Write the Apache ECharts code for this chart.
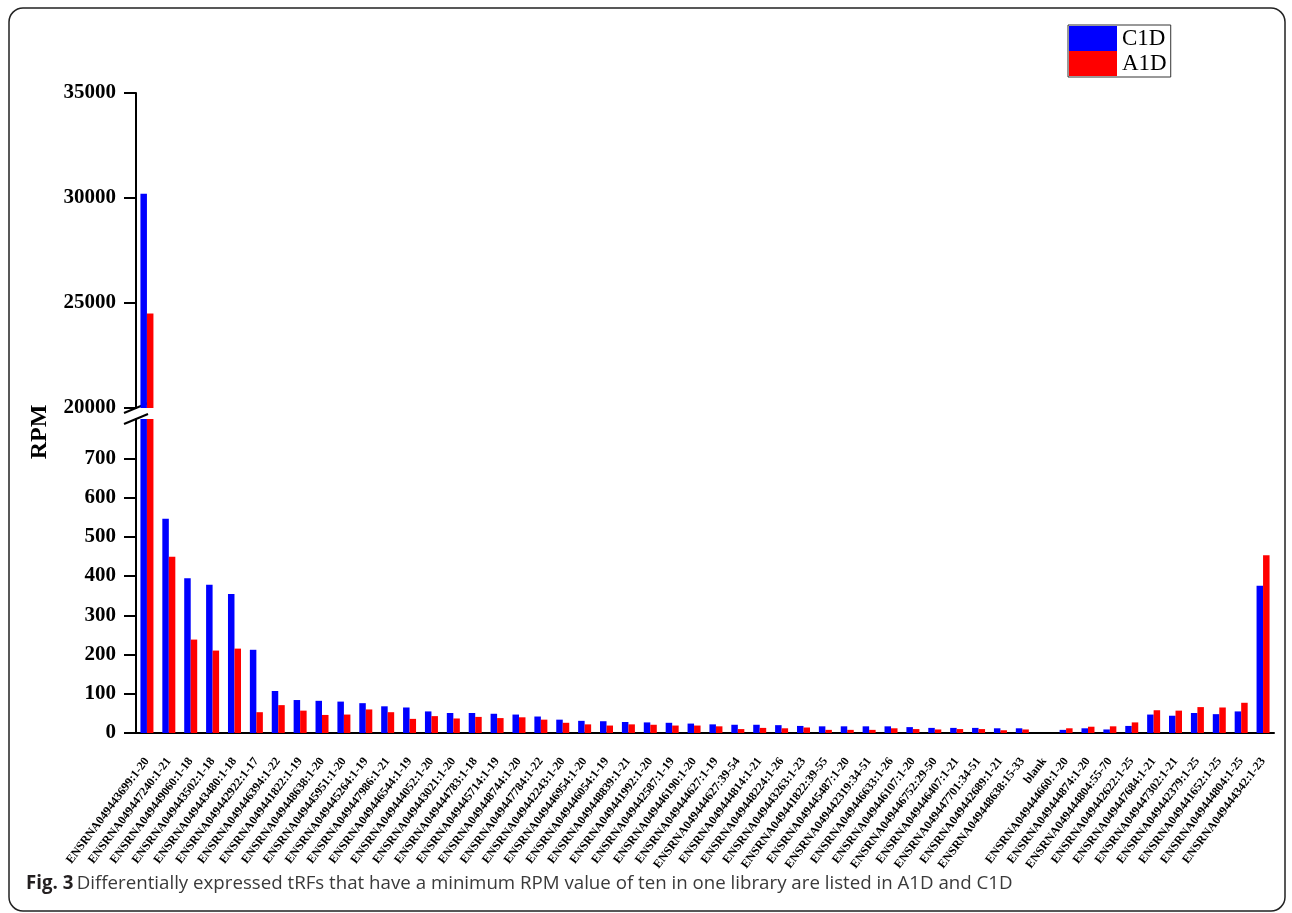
<!DOCTYPE html>
<html>
<head>
<meta charset="utf-8">
<script src="https://cdn.jsdelivr.net/npm/echarts@6/dist/echarts.min.js"></script>
<style>
html,body{margin:0;padding:0;background:#fff;}
#chart{width:1292px;height:913px;}
</style>
</head>
<body>
<div id="chart"></div>
<script>
var categories = [
  'ENSRNA049443699:1-20','ENSRNA049447240:1-21','ENSRNA049449060:1-18','ENSRNA049443502:1-18',
  'ENSRNA049443480:1-18','ENSRNA049442922:1-17','ENSRNA049446394:1-22','ENSRNA049441822:1-19',
  'ENSRNA049448638:1-20','ENSRNA049445951:1-20','ENSRNA049445264:1-19','ENSRNA049447986:1-21',
  'ENSRNA049446544:1-19','ENSRNA049444052:1-20','ENSRNA049443021:1-20','ENSRNA049444783:1-18',
  'ENSRNA049445714:1-19','ENSRNA049448744:1-20','ENSRNA049447784:1-22','ENSRNA049442243:1-20',
  'ENSRNA049446954:1-20','ENSRNA049446054:1-19','ENSRNA049448839:1-21','ENSRNA049441992:1-20',
  'ENSRNA049442587:1-19','ENSRNA049446190:1-20','ENSRNA049444627:1-19','ENSRNA049444627:39-54',
  'ENSRNA049444814:1-21','ENSRNA049448224:1-26','ENSRNA049443263:1-23','ENSRNA049441822:39-55',
  'ENSRNA049445487:1-20','ENSRNA049442319:34-51','ENSRNA049446633:1-26','ENSRNA049446107:1-20',
  'ENSRNA049446752:29-50','ENSRNA049446407:1-21','ENSRNA049447701:34-51','ENSRNA049442689:1-21',
  'ENSRNA049448638:15-33','blank','ENSRNA049444660:1-20','ENSRNA049444874:1-20',
  'ENSRNA049444804:55-70','ENSRNA049442622:1-25','ENSRNA049447684:1-21','ENSRNA049447302:1-21',
  'ENSRNA049442379:1-25','ENSRNA049441652:1-25','ENSRNA049444804:1-25','ENSRNA049444342:1-23'
];
var c1d = [30200,546,394,378,354,212,107,84,82,80,76,68,65,55,51,51,49,47,42,34,31,30,28,27,26,24,22,21,21,20,18,17,17,17,17,15,13,13,13,12,12,null,8,12,9,18,47,44,51,48,55,375];
var a1d = [24500,449,238,210,215,53,71,57,46,47,60,53,36,43,37,41,38,40,34,26,22,19,22,21,19,19,17,10,13,12,14,8,8,8,12,10,9,10,10,7,9,null,12,16,17,27,58,57,66,65,77,453];
var upperTicks = [20000,25000,30000,35000];
var lowerTicks = [0,100,200,300,400,500,600,700];
var caption = 'Differentially expressed tRFs that have a minimum RPM value of ten in one library are listed in A1D and C1D';

var SERIF = '"Liberation Serif","Times New Roman",serif';
var chart = echarts.init(document.getElementById('chart'), null, {renderer:'canvas'});
var axisLineStyle = {color:'#000', width:2};
function yLabel(ticks){
  return {customValues:ticks, color:'#000', fontFamily:SERIF, fontWeight:'bold', fontSize:21, margin:20,
    formatter:function(v){ return String(v); }};
}

function barSeries(name, data, color, idx){
  return {
    name:name, type:'bar', data:data, xAxisIndex:idx, yAxisIndex:idx,
    barWidth:6.5, barGap:'0%', clip:true,
    itemStyle:{color:color}, emphasis:{disabled:true}
  };
}

var option = {
  backgroundColor:'#fff',
  animation:false,
  legend:{
    data:['C1D','A1D'], orient:'vertical', left:1068, top:25,
    itemWidth:48, itemHeight:25, itemGap:0, icon:'rect',
    borderColor:'#333', borderWidth:1, padding:[1,4,1,1],
    textStyle:{fontFamily:SERIF, fontSize:23, color:'#000'},
    selectedMode:false
  },
  grid:[
    {left:136, top:93, width:1138, height:315},
    {left:136, top:419, width:1138, height:314}
  ],
  xAxis:[
    {type:'category', gridIndex:0, data:categories, show:false},
    {type:'category', gridIndex:1, data:categories,
      axisLine:{lineStyle:axisLineStyle},
      axisTick:{length:6, lineStyle:{color:'#000', width:2}},
      axisLabel:{interval:0, rotate:53, color:'#000', fontFamily:SERIF, fontWeight:'bold', fontSize:12, margin:26}
    }
  ],
  yAxis:[
    {type:'value', gridIndex:0, min:20000, max:35000, interval:5000,
      splitLine:{show:false},
      axisLine:{show:true, lineStyle:axisLineStyle},
      axisTick:{show:true, length:12, lineStyle:{color:'#000', width:2}, customValues:upperTicks},
      axisLabel:yLabel(upperTicks)
    },
    {type:'value', gridIndex:1, min:0, max:800, interval:100,
      splitLine:{show:false},
      axisLine:{show:true, lineStyle:axisLineStyle},
      axisTick:{show:true, length:12, lineStyle:{color:'#000', width:2}, customValues:lowerTicks},
      axisLabel:yLabel(lowerTicks)
    }
  ],
  series:[
    barSeries('C1D', c1d, '#0000ff', 0),
    barSeries('A1D', a1d, '#ff0000', 0),
    barSeries('C1D', c1d, '#0000ff', 1),
    barSeries('A1D', a1d, '#ff0000', 1)
  ],
  graphic:[
    {type:'rect', shape:{x:9, y:8, width:1276, height:903, r:14}, silent:true,
      style:{fill:null, stroke:'#222', lineWidth:1.5}},
    {type:'line', shape:{x1:124, y1:413, x2:148, y2:403}, style:{stroke:'#000', lineWidth:2}},
    {type:'line', shape:{x1:124, y1:424, x2:148, y2:414}, style:{stroke:'#000', lineWidth:2}},
    {type:'text', x:40, y:432, rotation:Math.PI/2,
      style:{text:'RPM', fontFamily:SERIF, fontWeight:'bold', fontSize:24, fill:'#000', align:'center', verticalAlign:'middle'}},
    {type:'text', x:26, y:884,
      style:{text:'{a|Fig. 3} {b|' + caption + '}', verticalAlign:'middle',
        rich:{
          a:{fontFamily:'"Open Sans",sans-serif', fontWeight:'bold', fontSize:18.7, fill:'#231f20'},
          b:{fontFamily:'"Open Sans",sans-serif', fontSize:18.7, fill:'#3a3a3a'}
        }}}
  ]
};
chart.setOption(option);
</script>
</body>
</html>
